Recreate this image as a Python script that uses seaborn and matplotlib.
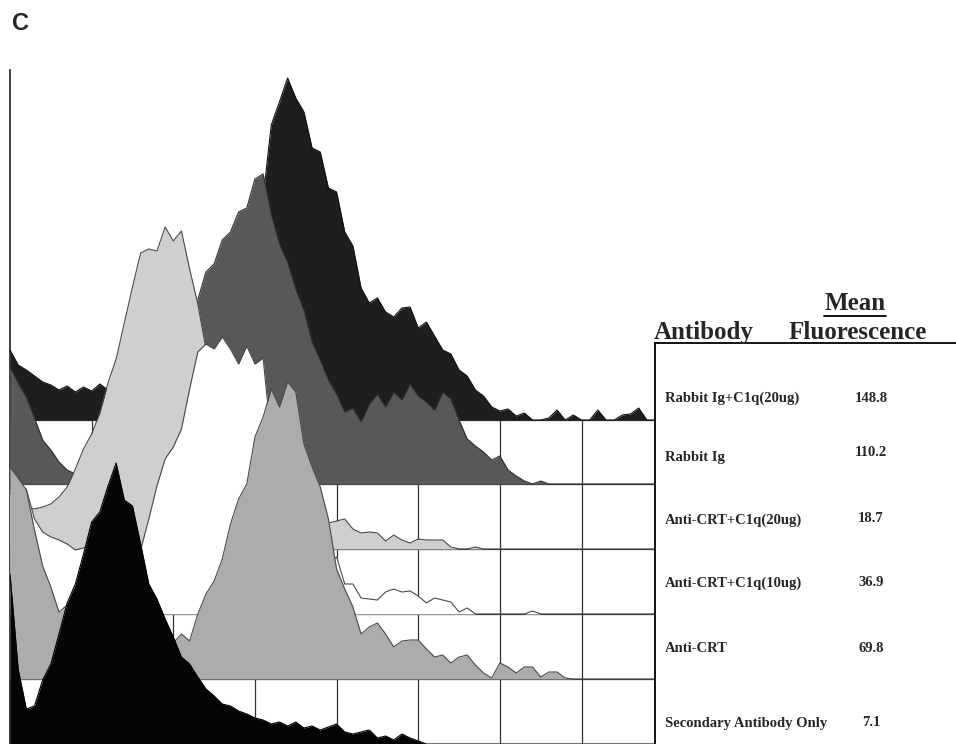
import numpy as np
import pandas as pd
import matplotlib
matplotlib.use("Agg")
import matplotlib.pyplot as plt
import seaborn as sns
from matplotlib.lines import Line2D

sns.set_style("white")
plt.rcParams['font.family'] = ['Liberation Serif', 'DejaVu Serif']

# FL channel bins, 10 bins per grid division
channel = np.arange(80)

# counts per bin (back row first)
rabbit_ig_c1q = [70, 55, 50, 44, 38, 35, 30, 34, 28, 33,
                 29, 36, 30, 32, 34, 38, 42, 48, 55, 62,
                 70, 80, 92, 105, 118, 130, 145, 160, 175, 195,
                 215, 222, 295, 318, 342, 322, 308, 272, 268, 232,
                 228, 188, 174, 132, 117, 122, 108, 103, 112, 113,
                 92, 98, 84, 70, 66, 50, 44, 30, 24, 13,
                 9, 11, 4, 7, 0, 0, 2, 10, 0, 5,
                 0, 0, 10, 0, 0, 5, 6, 12, 0, 0]
rabbit_ig = [117, 101, 87, 66, 44, 34, 22, 14, 10, 12,
             14, 20, 30, 40, 55, 70, 85, 100, 115, 130,
             145, 160, 172, 184, 212, 220, 244, 252, 272, 276,
             305, 310, 270, 240, 222, 195, 174, 142, 124, 104,
             90, 72, 76, 62, 80, 90, 77, 92, 84, 100,
             88, 82, 74, 92, 85, 64, 45, 38, 32, 24,
             28, 14, 8, 3, 0, 3, 0, 0, 0, 0,
             0, 0, 0, 0, 0, 0, 0, 0, 0, 0]
crt_c1q_20 = [60, 50, 42, 40, 42, 45, 52, 62, 80, 100,
              115, 136, 166, 190, 226, 262, 296, 300, 298, 322,
              308, 318, 280, 245, 200, 160, 130, 110, 95, 85,
              75, 65, 55, 50, 45, 40, 36, 32, 28, 26,
              28, 30, 20, 16, 17, 16, 8, 14, 9, 6,
              10, 9, 9, 9, 2, 0, 0, 2, 0, 0,
              0, 0, 0, 0, 0, 0, 0, 0, 0, 0,
              0, 0, 0, 0, 0, 0, 0, 0, 0, 0]
crt_c1q_10 = [120, 124, 125, 95, 82, 77, 74, 70, 64, 66,
              68, 68, 66, 64, 63, 62, 64, 95, 128, 155,
              167, 185, 225, 262, 270, 265, 277, 265, 250, 268,
              250, 256, 175, 140, 120, 100, 80, 65, 58, 52,
              57, 30, 30, 16, 15, 14, 22, 25, 22, 23,
              18, 11, 16, 14, 12, 2, 6, 0, 0, 0,
              0, 0, 0, 0, 3, 0, 0, 0, 0, 0,
              0, 0, 0, 0, 0, 0, 0, 0, 0, 0]
anti_crt = [212, 201, 189, 149, 113, 92, 67, 74, 68, 64,
            60, 56, 52, 50, 48, 46, 44, 42, 42, 40,
            36, 45, 38, 65, 85, 98, 120, 155, 180, 195,
            242, 262, 290, 272, 297, 287, 235, 212, 192, 160,
            110, 90, 72, 45, 52, 56, 45, 32, 38, 39,
            39, 30, 22, 24, 16, 22, 24, 14, 6, 1,
            16, 12, 6, 12, 12, 2, 7, 7, 1, 0,
            0, 0, 0, 0, 0, 0, 0, 0, 0, 0]
secondary = [170, 75, 35, 38, 64, 80, 110, 141, 160, 190,
             222, 232, 258, 281, 244, 238, 200, 160, 145, 125,
             107, 87, 80, 67, 55, 48, 40, 38, 33, 30,
             26, 24, 20, 22, 18, 22, 16, 18, 14, 17,
             20, 12, 10, 12, 14, 6, 8, 4, 10, 6,
             3, 0, 0, 0, 0, 0, 0, 0, 0, 0,
             0, 0, 0, 0, 0, 0, 0, 0, 0, 0,
             0, 0, 0, 0, 0, 0, 0, 0, 0, 0]

samples = ["Rabbit Ig+C1q(20ug)", "Rabbit Ig", "Anti-CRT+C1q(20ug)",
           "Anti-CRT+C1q(10ug)", "Anti-CRT", "Secondary Antibody Only"]
mean_fluor = ["148.8", "110.2", "18.7", "36.9", "69.8", "7.1"]
counts = [rabbit_ig_c1q, rabbit_ig, crt_c1q_20, crt_c1q_10, anti_crt, secondary]

offsets = [324, 260, 195, 130, 65, 0]
fills = ["#1e1e1e", "#585858", "#cfcfcf", "#ffffff", "#acacac", "#050505"]
edges = ["#111111", "#2e2e2e", "#4a4a4a", "#4a4a4a", "#4a4a4a", "#000000"]

rows = []
for name, c, off in zip(samples, counts, offsets):
    rows.append(pd.DataFrame({"channel": channel, "count": c, "sample": name,
                              "level": np.array(c) + off}))
df = pd.concat(rows, ignore_index=True)

W, H = 956, 744
fig = plt.figure(figsize=(W / 100, H / 100), dpi=100)
ax = fig.add_axes([10 / W, 0, 645 / W, 674 / H])
ax.set_xlim(0, 79)
ax.set_ylim(0, 674)

# offset grid behind the histograms
ax.hlines(offsets[:-1], 0, 79, color="#333333", lw=0.9, zorder=1)
ax.vlines(np.arange(10, 80, 10), 0, offsets[0], color="#333333", lw=0.9, zorder=1)

for i, name in enumerate(samples):
    sub = df[df["sample"] == name]
    ax.fill_between(sub["channel"], offsets[i], sub["level"],
                    color=fills[i], lw=0, zorder=2 + 2 * i)
    sns.lineplot(data=sub, x="channel", y="level", color=edges[i], lw=0.8,
                 estimator=None, ax=ax, zorder=3 + 2 * i)

ax.set(xlabel="", ylabel="", xticks=[], yticks=[])
for s in ["top", "right", "bottom"]:
    ax.spines[s].set_visible(False)
ax.spines["left"].set_color("#222222")
ax.spines["left"].set_linewidth(1.2)


def fx(px):
    return px / W


def fy(py):
    return 1 - py / H


# panel letter
fig.text(fx(12), fy(24), "C", family="Liberation Sans", weight="bold",
         size=17, va="center", ha="left")

# table on the right
fig.add_artist(Line2D([fx(655), fx(655)], [fy(343), fy(744)], color="k", lw=1.3))
fig.add_artist(Line2D([fx(655), fx(956)], [fy(343), fy(343)], color="k", lw=1.3))

fig.text(fx(855), fy(303), "Mean", weight="bold", size=18, ha="center", va="center")
fig.add_artist(Line2D([fx(824), fx(886)], [fy(316), fy(316)], color="k", lw=1.3))
fig.text(fx(654), fy(332), "Antibody", weight="bold", size=18, ha="left", va="center")
fig.text(fx(789), fy(332), "Fluorescence", weight="bold", size=18, ha="left", va="center")

label_y = [398, 457, 520, 583, 648, 723]
value_y = [398, 453, 519, 582, 649, 723]
for name, val, ly, vy in zip(samples, mean_fluor, label_y, value_y):
    fig.text(fx(665), fy(ly), name, weight="bold", size=10.5, ha="left", va="center")
    fig.text(fx(871), fy(vy), val, weight="bold", size=10.5, ha="center", va="center")

fig.savefig("out.png", dpi=100)
